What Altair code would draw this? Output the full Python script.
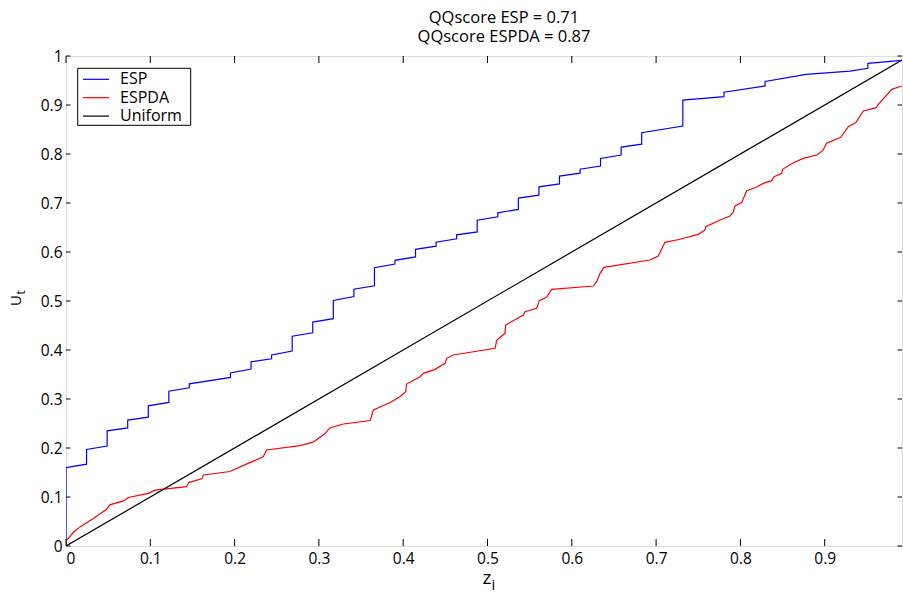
import altair as alt
import pandas as pd

# ---- data ----
esp_z = [0.0, 0.0, 0.0244, 0.0244, 0.0488, 0.0488, 0.0732, 0.0732, 0.0976, 0.0976,
         0.122, 0.122, 0.1463, 0.1463, 0.1951, 0.1951, 0.2195, 0.2195, 0.2439, 0.2439,
         0.2683, 0.2683, 0.2927, 0.2927, 0.3171, 0.3171, 0.3415, 0.3415, 0.3659, 0.3659,
         0.3902, 0.3902, 0.4146, 0.4146, 0.439, 0.439, 0.4634, 0.4634, 0.4878, 0.4878,
         0.5122, 0.5122, 0.5366, 0.5366, 0.561, 0.561, 0.5854, 0.5854, 0.6098, 0.6098,
         0.6341, 0.6341, 0.6585, 0.6585, 0.6829, 0.6829, 0.7317, 0.7317, 0.7805, 0.7805,
         0.8293, 0.8293, 0.878, 0.93, 0.9512, 0.9512, 0.9917]
esp_u = [0.0, 0.16, 0.167, 0.197, 0.204, 0.235, 0.241, 0.257, 0.263, 0.286,
         0.293, 0.316, 0.323, 0.331, 0.344, 0.353, 0.361, 0.376, 0.382, 0.39,
         0.398, 0.428, 0.435, 0.457, 0.464, 0.501, 0.509, 0.524, 0.531, 0.568,
         0.5755, 0.583, 0.59, 0.6055, 0.612, 0.62, 0.627, 0.635, 0.641, 0.665,
         0.672, 0.68, 0.687, 0.71, 0.716, 0.733, 0.739, 0.755, 0.761, 0.769,
         0.7755, 0.791, 0.798, 0.814, 0.82, 0.8435, 0.857, 0.91, 0.917, 0.926,
         0.939, 0.948, 0.9626, 0.969, 0.975, 0.985, 0.991]

espda_z = [0.0, 0.0, 0.0047, 0.0087, 0.0166, 0.0324, 0.0482, 0.052, 0.068, 0.074,
           0.0977, 0.1056, 0.143, 0.146, 0.161, 0.163, 0.1945, 0.214, 0.234, 0.238,
           0.2776, 0.293, 0.307, 0.313, 0.329, 0.361, 0.3646, 0.384, 0.396, 0.403,
           0.404, 0.42, 0.424, 0.4377, 0.4496, 0.4516, 0.4594, 0.509, 0.511, 0.5208,
           0.5215, 0.5425, 0.5445, 0.5583, 0.5615, 0.57, 0.576, 0.6255, 0.6295, 0.6335,
           0.638, 0.6928, 0.7026, 0.7105, 0.7284, 0.75, 0.758, 0.759, 0.7758, 0.7877,
           0.7916, 0.7936, 0.8015, 0.8075, 0.819, 0.827, 0.837, 0.84, 0.849, 0.85,
           0.8628, 0.8746, 0.8905, 0.8976, 0.9023, 0.919, 0.928, 0.937, 0.942, 0.9458,
           0.961, 0.9635, 0.9735, 0.9795, 0.9917]
espda_u = [0.0, 0.011, 0.019, 0.028, 0.039, 0.056, 0.075, 0.084, 0.092, 0.099,
           0.1075, 0.114, 0.121, 0.13, 0.137, 0.145, 0.152, 0.167, 0.182, 0.196,
           0.205, 0.212, 0.229, 0.241, 0.249, 0.256, 0.2776, 0.2925, 0.3047, 0.315,
           0.3306, 0.3456, 0.3524, 0.3605, 0.3728, 0.383, 0.3898, 0.4034, 0.4204, 0.434,
           0.451, 0.4714, 0.478, 0.485, 0.5007, 0.5075, 0.5238, 0.5306, 0.5394, 0.5565,
           0.5687, 0.5837, 0.5918, 0.6197, 0.626, 0.636, 0.645, 0.6517, 0.6653, 0.6735,
           0.682, 0.694, 0.7007, 0.7252, 0.732, 0.74, 0.7456, 0.7537, 0.7605, 0.7687,
           0.782, 0.791, 0.798, 0.8068, 0.8218, 0.834, 0.8558, 0.864, 0.8775, 0.8878,
           0.8945, 0.9014, 0.92, 0.932, 0.9388]

uniform_z = [0.0, 0.9917]
uniform_u = [0.0, 0.9917]

series_names = ["ESP", "ESPDA", "Uniform"]
series_colors = ["#0000ff", "#ff0000", "#000000"]
x_ticks = [0.0, 0.1, 0.2, 0.3, 0.4, 0.5, 0.6, 0.7, 0.8, 0.9]
y_ticks = [0.0, 0.1, 0.2, 0.3, 0.4, 0.5, 0.6, 0.7, 0.8, 0.9, 1.0]
title_lines = ["QQscore ESP = 0.71", "QQscore ESPDA = 0.87"]

# ---- tables ----
rows = []
for name, zs, us in [("ESP", esp_z, esp_u), ("ESPDA", espda_z, espda_u),
                     ("Uniform", uniform_z, uniform_u)]:
    for i, (z, u) in enumerate(zip(zs, us)):
        rows.append({"series": name, "z": z, "u": u, "order": i})
df = pd.DataFrame(rows)
xt = pd.DataFrame({"z": x_ticks})
yt = pd.DataFrame({"u": y_ticks})
legend_df = pd.DataFrame({"series": series_names})

W, H = 836, 490
FONT = "Open Sans"
xscale = alt.Scale(domain=[0, 0.9917], nice=False, zero=False)
yscale = alt.Scale(domain=[0, 1], nice=False)
cscale = alt.Scale(domain=series_names, range=series_colors)
x_axis = alt.Axis(values=x_ticks, format="~g", title=None, ticks=False,
                  labelPadding=5, grid=False, domain=False,
                  labelFont=FONT, labelFontSize=15.5, labelColor="black")
y_axis = alt.Axis(values=y_ticks, format="~g", title=None, ticks=False,
                  labelPadding=4, grid=False, domain=False,
                  labelFont=FONT, labelFontSize=15.5, labelColor="black")
X = alt.X("z:Q", scale=xscale, axis=x_axis)
Y = alt.Y("u:Q", scale=yscale, axis=y_axis)

lines = alt.Chart(df).mark_line(strokeWidth=1.2, clip=True).encode(
    x=X, y=Y,
    color=alt.Color("series:N", scale=cscale, legend=None),
    order="order:Q",
)

# inward tick marks on all four sides
tick_bottom = alt.Chart(xt).mark_rule(color="black", strokeWidth=1).encode(
    x=X, y=alt.value(H), y2=alt.value(H - 7))
tick_top = alt.Chart(xt).mark_rule(color="black", strokeWidth=1).encode(
    x=X, y=alt.value(0), y2=alt.value(7))
tick_left = alt.Chart(yt).mark_rule(color="black", strokeWidth=1).encode(
    y=Y, x=alt.value(0), x2=alt.value(4.5))
tick_right = alt.Chart(yt).mark_rule(color="black", strokeWidth=1).encode(
    y=Y, x=alt.value(W), x2=alt.value(W - 4.5))

# legend box (upper left, inside the plot)
leg_box = alt.Chart(pd.DataFrame({"k": [0]})).mark_rect(
    fill="white", stroke="black", strokeWidth=1
).encode(x=alt.value(11.7), x2=alt.value(124.7), y=alt.value(12.3), y2=alt.value(69.3))
leg_layers = []
for i, name in enumerate(series_names):
    base = alt.Chart(legend_df).transform_filter(alt.datum.series == name)
    ypos = 23.3 + i * 18.4
    leg_layers.append(base.mark_rule(strokeWidth=1.2).encode(
        x=alt.value(17), x2=alt.value(43), y=alt.value(ypos),
        color=alt.Color("series:N", scale=cscale, legend=None)))
    leg_layers.append(base.mark_text(
        font=FONT, fontSize=16, align="left", baseline="middle", color="black"
    ).encode(x=alt.value(54), y=alt.value(ypos), text="series:N"))

# axis titles with subscripts
x_title = alt.Chart(pd.DataFrame({"s": ["z"]})).mark_text(
    font=FONT, fontSize=19, align="center", baseline="alphabetic", color="black"
).encode(text="s:N", x=alt.value(421), y=alt.value(527.5))
x_sub = alt.Chart(pd.DataFrame({"s": ["i"]})).mark_text(
    font=FONT, fontSize=15, align="left", baseline="alphabetic", color="black"
).encode(text="s:N", x=alt.value(425.5), y=alt.value(533.5))
y_title = alt.Chart(pd.DataFrame({"s": ["U"]})).mark_text(
    font=FONT, fontSize=15, align="center", baseline="alphabetic", angle=270, color="black"
).encode(text="s:N", x=alt.value(-45), y=alt.value(244.5))
y_sub = alt.Chart(pd.DataFrame({"s": ["t"]})).mark_text(
    font=FONT, fontSize=12, align="left", baseline="alphabetic", angle=270, color="black"
).encode(text="s:N", x=alt.value(-41), y=alt.value(238.5))

chart = alt.layer(
    lines, tick_bottom, tick_top, tick_left, tick_right,
    leg_box, *leg_layers, x_title, x_sub, y_title, y_sub
).properties(
    width=W, height=H,
    title=alt.TitleParams(text=title_lines, font=FONT, fontSize=16.5, fontWeight="normal",
                          color="black", lineHeight=19, anchor="middle", dx=20, offset=4),
    autosize=alt.AutoSizeParams(type="none"),
    padding={"left": 66, "top": 56, "right": 1, "bottom": 46},
).configure_view(
    stroke="black", strokeWidth=1
).configure(background="white")

chart.save("out.html", embed_options={"renderer": "svg", "actions": False})
